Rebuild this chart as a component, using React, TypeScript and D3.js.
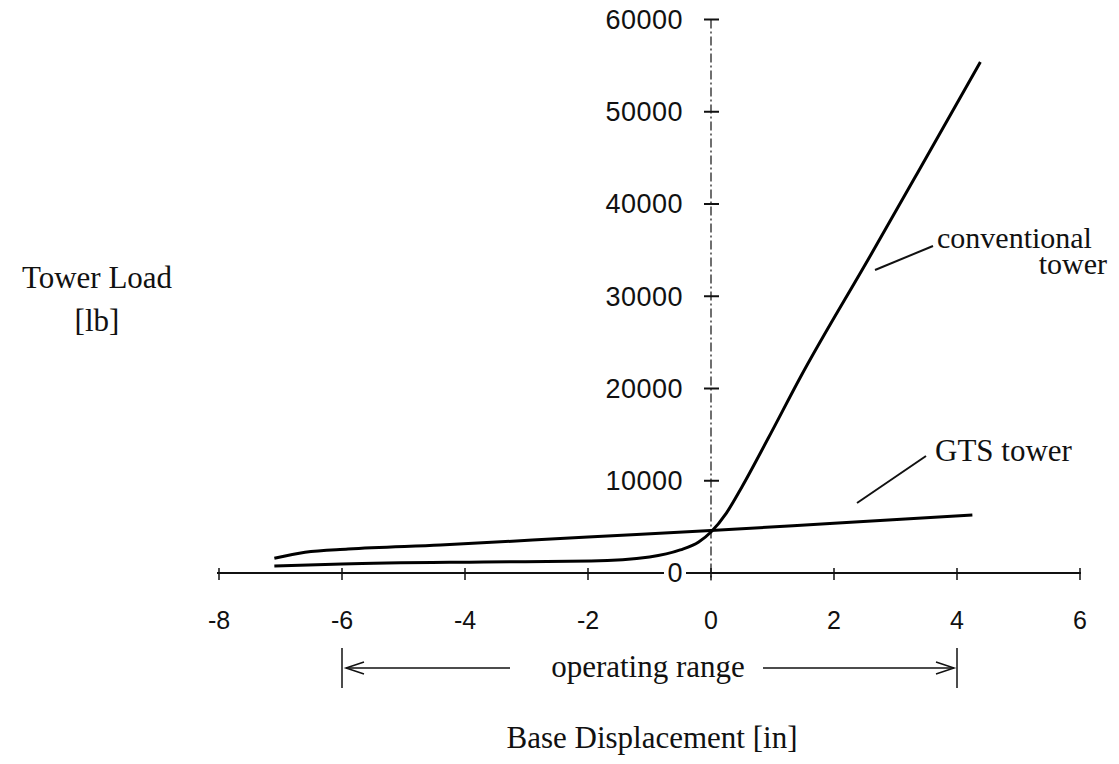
import React from "react";
import * as d3 from "d3";

const X_TICKS = [-8, -6, -4, -2, 0, 2, 4, 6];
const Y_TICKS = [0, 10000, 20000, 30000, 40000, 50000, 60000];

const GTS_X = [-7.1, -6.6, -5.9, -4.4, -2, 0, 2, 4.25];
const GTS_Y = [1600, 2250, 2600, 3030, 3900, 4600, 5400, 6300];

const CONV_X = [-7.1, -6.0, -3.7, -1.95, -1.0, -0.5, -0.2, 0, 0.25, 0.5, 0.93, 1.46, 2.6, 3.36, 4.38];
const CONV_Y = [760, 980, 1190, 1300, 1740, 2500, 3360, 4450, 6500, 9300, 14600, 21300, 34500, 43400, 55400];

const OP_RANGE = [-6, 4];

const W = 1119;
const H = 764;

export default function App() {
  const x = d3.scaleLinear().domain([-8, 6]).range([219, 1080]);
  const y = d3.scaleLinear().domain([0, 60000]).range([573, 19.5]);

  const line = d3
    .line<[number, number]>()
    .x((d) => x(d[0]))
    .y((d) => y(d[1]))
    .curve(d3.curveMonotoneX);

  const gts = GTS_X.map((v, i) => [v, GTS_Y[i]] as [number, number]);
  const conv = CONV_X.map((v, i) => [v, CONV_Y[i]] as [number, number]);

  const sans = "'Liberation Sans', Arial, sans-serif";
  const serif = "'Liberation Serif', 'Times New Roman', serif";
  const x0 = x(0);
  const yAxis = y(0);

  const opL = x(OP_RANGE[0]);
  const opR = x(OP_RANGE[1]);
  const arrowY = 668;

  return (
    <svg
      width={W}
      height={H}
      viewBox={`0 0 ${W} ${H}`}
      style={{ position: "absolute", left: 0, top: 0, background: "#fff" }}
    >
      <rect x={0} y={0} width={W} height={H} fill="#fff" />
      {/* y axis (dash-dot) */}
      <line
        x1={x0}
        x2={x0}
        y1={y(60000)}
        y2={yAxis + 8}
        stroke="#222"
        strokeWidth={1.3}
        strokeDasharray="9 3 2 3"
      />
      {/* x axis */}
      <line x1={x(-8) - 2} x2={x(6) + 1} y1={yAxis} y2={yAxis} stroke="#111" strokeWidth={2} />
      {X_TICKS.map((t) => (
        <g key={"xt" + t}>
          <line x1={x(t)} x2={x(t)} y1={yAxis - 5} y2={yAxis + 7} stroke="#111" strokeWidth={1.5} />
          <text
            x={x(t)}
            y={629}
            textAnchor="middle"
            fontFamily={sans}
            fontSize={25}
            fill="#111"
          >
            {t}
          </text>
        </g>
      ))}
      {Y_TICKS.map((t) => (
        <g key={"yt" + t}>
          <line x1={x0 - 7} x2={x0 + 8} y1={y(t)} y2={y(t)} stroke="#111" strokeWidth={2} />
          {t === 0 && <rect x={664} y={y(t) - 10} width={22} height={20} fill="#fff" />}
          <text
            x={683}
            y={y(t)}
            dy="0.35em"
            textAnchor="end"
            fontFamily={sans}
            fontSize={27}
            letterSpacing={0.5}
            fill="#111"
          >
            {t}
          </text>
        </g>
      ))}

      {/* curves */}
      <path d={line(gts) || ""} fill="none" stroke="#000" strokeWidth={3} />
      <path d={line(conv) || ""} fill="none" stroke="#000" strokeWidth={3} />

      {/* annotations */}
      <line x1={875} y1={270} x2={933} y2={246} stroke="#111" strokeWidth={2} />
      <text x={937} y={248} fontFamily={serif} fontSize={30} fill="#111">
        conventional
      </text>
      <text x={1107} y={274} textAnchor="end" fontFamily={serif} fontSize={30} fill="#111">
        tower
      </text>
      <line x1={857} y1={503} x2={926} y2={456} stroke="#111" strokeWidth={2} />
      <text x={935} y={461} fontFamily={serif} fontSize={31} fill="#111">
        GTS tower
      </text>

      {/* axis titles */}
      <text x={97} y={288} textAnchor="middle" fontFamily={serif} fontSize={31} fill="#111">
        Tower Load
      </text>
      <text x={97} y={331} textAnchor="middle" fontFamily={serif} fontSize={31} fill="#111">
        [lb]
      </text>
      <text x={652} y={748} textAnchor="middle" fontFamily={serif} fontSize={31} fill="#111">
        Base Displacement [in]
      </text>

      {/* operating range */}
      <line x1={opL} x2={opL} y1={648} y2={688} stroke="#111" strokeWidth={1.5} />
      <line x1={opR} x2={opR} y1={648} y2={688} stroke="#111" strokeWidth={1.5} />
      <line x1={opL + 4} x2={510} y1={arrowY} y2={arrowY} stroke="#111" strokeWidth={1.5} />
      <polyline
        points={`${opL + 22},${arrowY - 6} ${opL + 4},${arrowY} ${opL + 22},${arrowY + 6}`}
        fill="none"
        stroke="#111"
        strokeWidth={1.5}
      />
      <line x1={763} x2={opR - 3} y1={arrowY} y2={arrowY} stroke="#111" strokeWidth={1.5} />
      <polyline
        points={`${opR - 21},${arrowY - 6} ${opR - 3},${arrowY} ${opR - 21},${arrowY + 6}`}
        fill="none"
        stroke="#111"
        strokeWidth={1.5}
      />
      <text x={648} y={677} textAnchor="middle" fontFamily={serif} fontSize={31} fill="#111">
        operating range
      </text>
    </svg>
  );
}
